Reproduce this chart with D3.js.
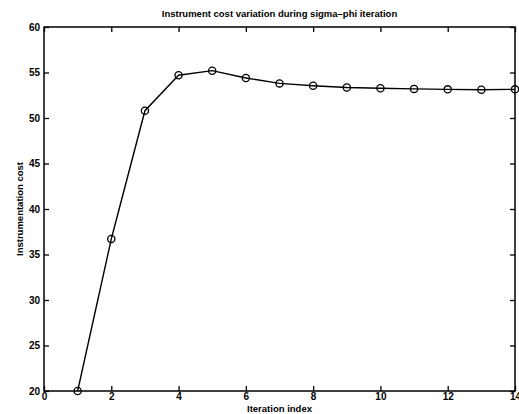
<!DOCTYPE html>
<html><head><meta charset="utf-8">
<script src="https://cdn.jsdelivr.net/npm/d3@7"></script>
<style>
html,body{margin:0;padding:0;background:#fff;}
svg{display:block;}
text{font-family:"Liberation Sans",Arial,Helvetica,sans-serif;fill:#000;}
</style></head><body>
<svg id="chart" width="519" height="414"></svg>
<script>
const iterations = [1,2,3,4,5,6,7,8,9,10,11,12,13,14];
const costs = [20.0,36.7,50.8,54.7,55.2,54.4,53.8,53.55,53.35,53.27,53.2,53.15,53.1,53.15];
const xTicks = [0,2,4,6,8,10,12,14];
const yTicks = [20,25,30,35,40,45,50,55,60];
const titleText = "Instrument cost variation during sigma\u2013phi iteration";
const xLabel = "Iteration index";
const yLabel = "Instrumentation cost";

const svg = d3.select("#chart");
const L = 44, R = 515, T = 27, B = 391;
const x = d3.scaleLinear().domain([0,14]).range([L,R]);
const y = d3.scaleLinear().domain([20,60]).range([B,T]);

svg.append("rect").attr("x",L).attr("y",T).attr("width",R-L).attr("height",B-T)
  .attr("fill","none").attr("stroke","#000").attr("stroke-width",1.5);

const tick = 5;
const fs = 10;
const xb = svg.append("g").attr("transform",`translate(0,${B})`)
  .call(d3.axisBottom(x).tickValues(xTicks).tickSize(-tick).tickPadding(2).tickFormat(d3.format("d")));
const xt = svg.append("g").attr("transform",`translate(0,${T})`)
  .call(d3.axisTop(x).tickValues(xTicks).tickSize(-tick).tickFormat(""));
const yl = svg.append("g").attr("transform",`translate(${L},0)`)
  .call(d3.axisLeft(y).tickValues(yTicks).tickSize(-tick).tickPadding(4).tickFormat(d3.format("d")));
const yr = svg.append("g").attr("transform",`translate(${R},0)`)
  .call(d3.axisRight(y).tickValues(yTicks).tickSize(-tick).tickFormat(""));
[xb,xt,yl,yr].forEach(g=>{
  g.select(".domain").remove();
  g.selectAll(".tick line").attr("stroke","#000").attr("stroke-width",1.3);
  g.selectAll(".tick text").attr("font-size",fs).attr("font-weight","bold").attr("fill","#000");
});

const line = d3.line().x((d,i)=>x(iterations[i])).y(d=>y(d));
svg.append("path").datum(costs).attr("d",line).attr("fill","none")
  .attr("stroke","#000").attr("stroke-width",1.4);
svg.append("g").selectAll("circle").data(costs).join("circle")
  .attr("cx",(d,i)=>x(iterations[i])).attr("cy",d=>y(d)).attr("r",3.6)
  .attr("fill","none").attr("stroke","#000").attr("stroke-width",1.3);

svg.append("text").attr("x",(L+R)/2).attr("y",17).attr("text-anchor","middle")
  .attr("font-size",9.5).attr("font-weight","bold").text(titleText);
svg.append("text").attr("x",(L+R)/2).attr("y",412).attr("text-anchor","middle")
  .attr("font-size",9.5).attr("font-weight","bold").text(xLabel);
svg.append("text").attr("transform",`translate(23,${(T+B)/2}) rotate(-90)`).attr("text-anchor","middle")
  .attr("font-size",9.5).attr("font-weight","bold").text(yLabel);
</script>
</body></html>
